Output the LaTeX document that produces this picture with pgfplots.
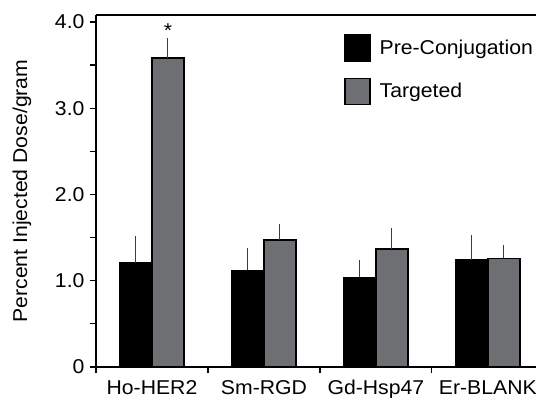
\documentclass[border=0pt]{standalone}
\usepackage{fontspec}
\setmainfont[FakeStretch=1.06]{Liberation Sans}
\usepackage{pgfplots}
\pgfplotsset{compat=1.18}
\definecolor{bargray}{RGB}{110,111,114}
\definecolor{errgray}{RGB}{60,60,60}
\begin{document}
\begin{tikzpicture}
\path[use as bounding box] (-96pt,-30pt) rectangle (440pt,367pt);
\begin{axis}[
 scale only axis, width=440pt, height=352pt,
 xmin=-0.5, xmax=3.43, ymin=0, ymax=4.08,
 axis lines=left, axis line style={-, line width=1.6pt},
 ybar=0pt, bar width=32pt,
 xtick={0,1,2,3}, xticklabels={Ho-HER2,Sm-RGD,Gd-Hsp47,Er-BLANK},
 minor xtick={-0.5,0.5,1.5,2.5},
 ytick={0,1,2,3,4}, yticklabels={0,1.0,2.0,3.0,4.0},
 minor ytick={0.5,1.5,2.5,3.5},
 tick align=outside, major tick length=6pt, minor tick length=6pt,
 tick style={line width=1.2pt, black},
 major x tick style={draw=none},
 font=\fontsize{20pt}{23pt}\selectfont,
 ylabel={Percent Injected Dose/gram},
 ylabel style={at={(axis description cs:-0.168,0.5)}, anchor=center},
 xticklabel style={anchor=base, yshift=-21pt},
 yticklabel style={xshift=-2pt},
 legend image code/.code={\draw[#1] (0pt,-13pt) rectangle (25pt,13pt);},
 legend style={at={(axis description cs:0.5636,0.946)}, anchor=north west, draw=none, fill=none, row sep=16pt, font=\fontsize{20pt}{23pt}\selectfont, inner sep=0pt,
   /tikz/every odd column/.append style={column sep=7pt}},
 legend cell align=left,
 clip=false,
]
\addplot[fill=black, draw=black, line width=1.5pt,
 error bars/.cd, y dir=plus, y explicit,
 error bar style={line width=1pt, errgray},
 error mark options={line width=1pt, errgray, mark size=3pt}]
 coordinates {(0,1.21) +- (0,0.27) (1,1.12) +- (0,0.22) (2,1.04) +- (0,0.16) (3,1.24) +- (0,0.26)};
\addlegendentry{Pre-Conjugation}
\addplot[fill=bargray, draw=black, line width=1.5pt,
 error bars/.cd, y dir=plus, y explicit,
 error bar style={line width=1pt, errgray},
 error mark options={line width=1pt, errgray, mark size=3pt}]
 coordinates {(0,3.58) +- (0,0.20) (1,1.47) +- (0,0.15) (2,1.37) +- (0,0.21) (3,1.26) +- (0,0.12)};
\addlegendentry{Targeted}
\draw[line width=1.6pt] (rel axis cs:0,1) -- (rel axis cs:1,1);
\node[anchor=north, inner sep=0pt] at (axis cs:0.143,3.98) {*};
\end{axis}
\end{tikzpicture}
\end{document}
